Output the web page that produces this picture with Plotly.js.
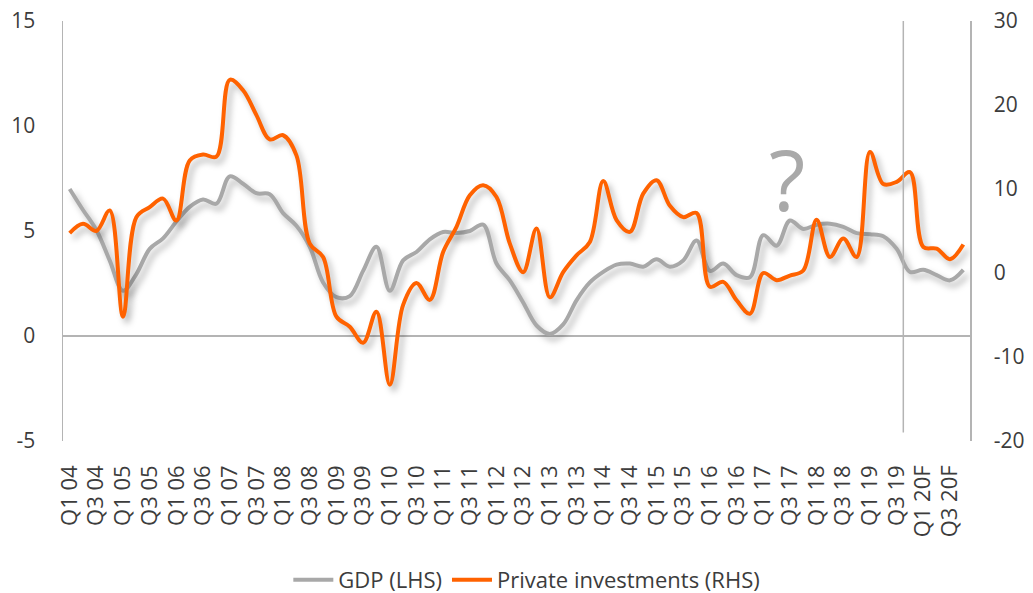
<!DOCTYPE html>
<html>
<head>
<meta charset="utf-8">
<script src="https://cdn.plot.ly/plotly-3.0.1.min.js"></script>
<style>
  html, body { margin: 0; padding: 0; background: #fff; }
  #chart { width: 1033px; height: 593px; }
  .cartesianlayer .scatterlayer path.js-line { filter: drop-shadow(4px 5px 3px rgba(0,0,0,0.28)); }
</style>
</head>
<body>
<div id="chart"></div>
<script>
const quarters = [
  'Q1 04','Q2 04','Q3 04','Q4 04','Q1 05','Q2 05','Q3 05','Q4 05',
  'Q1 06','Q2 06','Q3 06','Q4 06','Q1 07','Q2 07','Q3 07','Q4 07',
  'Q1 08','Q2 08','Q3 08','Q4 08','Q1 09','Q2 09','Q3 09','Q4 09',
  'Q1 10','Q2 10','Q3 10','Q4 10','Q1 11','Q2 11','Q3 11','Q4 11',
  'Q1 12','Q2 12','Q3 12','Q4 12','Q1 13','Q2 13','Q3 13','Q4 13',
  'Q1 14','Q2 14','Q3 14','Q4 14','Q1 15','Q2 15','Q3 15','Q4 15',
  'Q1 16','Q2 16','Q3 16','Q4 16','Q1 17','Q2 17','Q3 17','Q4 17',
  'Q1 18','Q2 18','Q3 18','Q4 18','Q1 19','Q2 19','Q3 19','Q4 19',
  'Q1 20F','Q2 20F','Q3 20F','Q4 20F'
];

// GDP growth, % YoY (left axis)
const gdp = [
  7.0, 6.0, 5.05, 3.6, 2.15, 2.95, 4.15, 4.65,
  5.45, 6.15, 6.5, 6.3, 7.6, 7.25, 6.8, 6.75,
  5.85, 5.25, 4.25, 2.55, 1.85, 1.9, 3.1, 4.25,
  2.15, 3.6, 4.0, 4.6, 4.95, 4.9, 5.0, 5.3,
  3.45, 2.65, 1.6, 0.5, 0.1, 0.55, 1.7, 2.55,
  3.05, 3.4, 3.45, 3.3, 3.65, 3.3, 3.6, 4.55,
  3.1, 3.45, 2.9, 2.8, 4.8, 4.3, 5.5, 5.1,
  5.3, 5.35, 5.2, 4.9, 4.85, 4.75, 4.15, 3.05,
  3.15, 2.9, 2.65, 3.15
];

// Private investments growth, % YoY (right axis)
const investments = [
  4.75, 5.85, 5.0, 7.45, -5.2, 6.65, 7.85, 8.85,
  6.25, 13.4, 14.1, 13.85, 23.0, 21.75, 18.8, 15.9,
  16.4, 14.0, 3.5, 1.9, -5.2, -6.4, -8.3, -4.6,
  -13.3, -3.8, -1.2, -3.2, 2.5, 5.5, 9.25, 10.45,
  9.05, 3.5, 0.1, 5.3, -2.9, 0.1, 2.1, 3.7,
  10.95, 6.3, 4.9, 9.45, 11.05, 8.0, 6.65, 7.15,
  -1.65, -1.05, -3.25, -4.85, 0.0, -0.85, -0.3, 0.3,
  6.35, 1.9, 4.1, 1.9, 14.4, 10.6, 10.85, 12.0,
  3.1, 2.9, 1.65, 3.4
];

const seriesNames = ['GDP (LHS)', 'Private investments (RHS)'];
const forecastStart = 'Q4 19';

// axis tick values and labels (hyphen minus as in the original)
const leftTicks = [-5, 0, 5, 10, 15];
const leftTickText = ['-5', '0', '5', '10', '15'];
const rightTicks = [-20, -10, 0, 10, 20, 30];
const rightTickText = ['-20', '-10', '0', '10', '20', '30'];

const FONT = 'Open Sans, DejaVu Sans, sans-serif';
const TXT = '#3c3c3c';
const AXIS = '#b4b4b4';
const GREY = '#a8a8a8';
const ORANGE = '#ff6200';

const traces = [
  {
    x: quarters, y: gdp, name: seriesNames[0], type: 'scatter', mode: 'lines',
    line: { color: GREY, width: 4, shape: 'spline', smoothing: 1 },
    yaxis: 'y', hoverinfo: 'x+y'
  },
  {
    x: quarters, y: investments, name: seriesNames[1], type: 'scatter', mode: 'lines',
    line: { color: ORANGE, width: 4, shape: 'spline', smoothing: 1 },
    yaxis: 'y2', hoverinfo: 'x+y'
  }
];

const fIdx = quarters.indexOf(forecastStart) - 0.5;

const layout = {
  width: 1033, height: 593,
  margin: { l: 63, r: 63, t: 21, b: 152, pad: 0 },
  paper_bgcolor: '#ffffff', plot_bgcolor: '#ffffff',
  font: { family: FONT, size: 20, color: TXT },
  showlegend: true,
  legend: {
    orientation: 'h', x: 0.51, xanchor: 'center', xref: 'container',
    y: 0.022, yanchor: 'middle', yref: 'container',
    font: { family: FONT, size: 22, color: TXT }, traceorder: 'normal',
    itemwidth: 40
  },
  xaxis: {
    type: 'category', range: [-0.5, quarters.length - 0.5],
    showgrid: false, zeroline: false, showline: false,
    tickmode: 'linear', tick0: 0, dtick: 2,
    tickangle: -90, ticks: '', ticklabelstandoff: 19,
    tickfont: { family: FONT, size: 22, color: TXT }
  },
  yaxis: {
    range: [-5, 15], tickmode: 'array', tickvals: leftTicks, ticktext: leftTickText,
    showgrid: false, zeroline: true, zerolinecolor: AXIS, zerolinewidth: 1.5,
    showline: true, linecolor: AXIS, linewidth: 1.5,
    ticks: '', ticklabelstandoff: 22,
    tickfont: { family: FONT, size: 21, color: TXT }
  },
  yaxis2: {
    range: [-20, 30], tickmode: 'array', tickvals: rightTicks, ticktext: rightTickText,
    overlaying: 'y', side: 'right',
    showgrid: false, zeroline: false,
    showline: true, linecolor: AXIS, linewidth: 1.5,
    ticks: '', ticklabelstandoff: 18,
    tickfont: { family: FONT, size: 21, color: TXT }
  },
  shapes: [
    {
      type: 'line', xref: 'x', yref: 'paper',
      x0: fIdx, x1: fIdx, y0: 0.02, y1: 1,
      line: { color: AXIS, width: 1.5 }
    }
  ],
  annotations: [
    {
      text: '?', xref: 'paper', yref: 'paper', x: 0.798, y: 0.625,
      xanchor: 'center', yanchor: 'middle', showarrow: false,
      font: { family: FONT, size: 84, color: '#a9a9a9' }
    }
  ]
};

Plotly.newPlot('chart', traces, layout, { displayModeBar: false, staticPlot: true });
</script>
</body>
</html>
